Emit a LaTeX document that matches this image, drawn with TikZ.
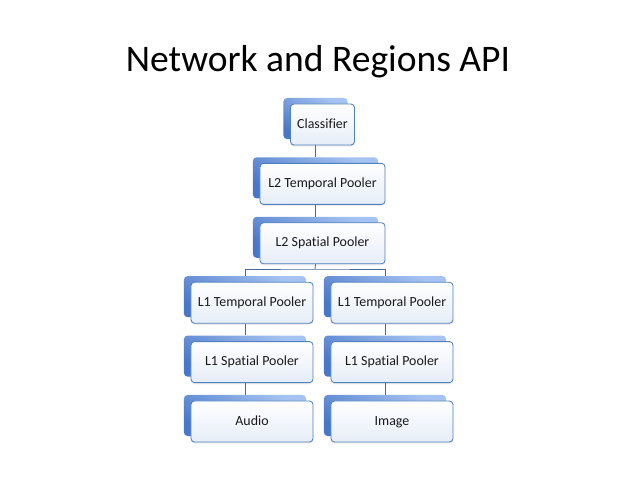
\documentclass[tikz,border=0pt]{standalone}
\usepackage{fontspec}
\setmainfont{Carlito}[Ligatures=NoCommon]
\usetikzlibrary{shadows}
\definecolor{edgeblue}{RGB}{79,129,189}
\definecolor{lineblue}{RGB}{75,105,150}
\definecolor{backtop}{RGB}{165,195,242}
\definecolor{backbot}{RGB}{72,118,200}
\definecolor{cardbot}{RGB}{230,237,248}

\begin{document}
\begin{tikzpicture}[x=0.025cm, y=-0.025cm,
        back/.style ={rectangle, rounded corners=2.5pt, top color=backtop, bottom color=backbot,
        shading angle=-30, minimum height=1.025cm, inner sep=0pt},
        card/.style ={rectangle, rounded corners=2.5pt, top color=white, bottom color=cardbot,
        draw=edgeblue, line width=0.6pt, text=black!90, minimum height=1.025cm, inner sep=0pt,
        text height=7pt, text depth=2pt, font=\fontsize{9.9}{12}\selectfont,
        drop shadow={shadow xshift=0pt, shadow yshift=-1.2pt, opacity=0.15}},
        narrow/.style ={minimum width=1.6cm},
        wide/.style ={minimum width=3.125cm},
        mid/.style ={minimum width=3.05cm},
        link/.style ={draw=lineblue, line width=0.6pt}]

        \useasboundingbox (0,0) rectangle (638,479);

        %titulo
        \node[anchor=base, font=\fontsize{26.7}{32}\selectfont] (title) at (318,72) {Network and Regions API};

        %\node [estilo] (nombre) at (posicion) {};
        \node[back, narrow] (b1) at (315.5,118.5) {};
        \node[card, narrow] (n1) at (322.5,124.5) {Classifier};
        \node[back, wide] (b2) at (315.5,177.9) {};
        \node[card, wide] (n2) at (322.5,183.9) {L2 Temporal Pooler};
        \node[back, wide] (b3) at (315.5,237.3) {};
        \node[card, wide] (n3) at (322.5,243.3) {L2 Spatial Pooler};

        \node[back, mid] (b4) at (245,296.7) {};
        \node[card, mid] (n4) at (252,302.7) {L1 Temporal Pooler};
        \node[back, mid] (b5) at (245,356.1) {};
        \node[card, mid] (n5) at (252,362.1) {L1 Spatial Pooler};
        \node[back, mid] (b6) at (245,415.5) {};
        \node[card, mid] (n6) at (252,421.5) {Audio};

        \node[back, mid] (b7) at (385,296.7) {};
        \node[card, mid] (n7) at (392,302.7) {L1 Temporal Pooler};
        \node[back, mid] (b8) at (385,356.1) {};
        \node[card, mid] (n8) at (392,362.1) {L1 Spatial Pooler};
        \node[back, mid] (b9) at (385,415.5) {};
        \node[card, mid] (n9) at (392,421.5) {Image};

        \coordinate (f) at (315,269);

        \draw[link] (n1.south -| b1) -- (b2.north);
        \draw[link] (n2.south -| b2) -- (b3.north);
        \draw[link] (n3.south -| b3) -- (f);
        \draw[link] (b4.north) |- (f) -| (b7.north);

        \draw[link] (n4.south -| b4) -- (b5.north);
        \draw[link] (n5.south -| b5) -- (b6.north);
        \draw[link] (n7.south -| b7) -- (b8.north);
        \draw[link] (n8.south -| b8) -- (b9.north);
    \end{tikzpicture}
\end{document}
